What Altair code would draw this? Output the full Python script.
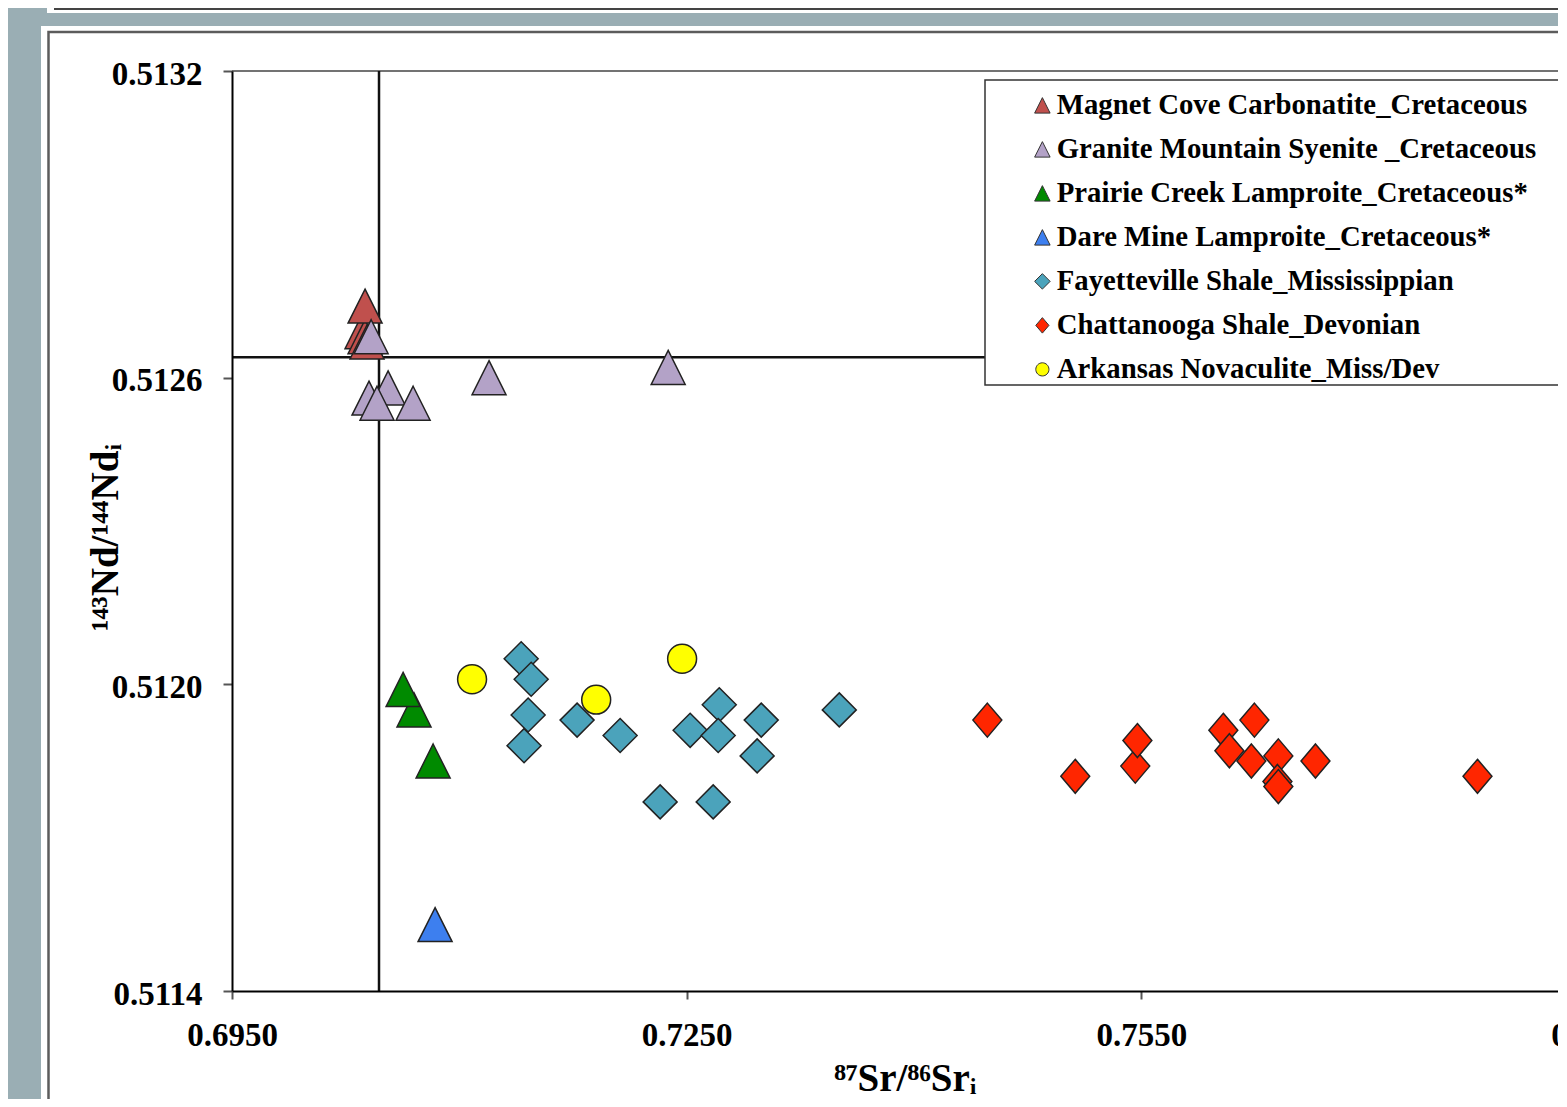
import altair as alt
import pandas as pd

# ---------------- data ----------------
series = [
    "Magnet Cove Carbonatite_Cretaceous",
    "Granite Mountain Syenite _Cretaceous",
    "Prairie Creek Lamproite_Cretaceous*",
    "Dare Mine Lamproite_Cretaceous*",
    "Fayetteville Shale_Mississippian",
    "Chattanooga Shale_Devonian",
    "Arkansas Novaculite_Miss/Dev",
]
colors = ["#c0504d", "#b3a2c7", "#008a00", "#3d7fef", "#4ba3bb", "#ff2600", "#ffff00"]

magnet_sr = [0.70358, 0.70378, 0.70391, 0.70378]
magnet_nd = [0.51269, 0.51268, 0.51267, 0.51274]

granite_sr = [0.70418, 0.70404, 0.70530, 0.70457, 0.70695, 0.71196, 0.72378]
granite_nd = [0.51268, 0.51256, 0.51258, 0.51255, 0.51255, 0.51260, 0.51262]

prairie_sr = [0.70701, 0.70629, 0.70827]
prairie_nd = [0.51195, 0.51199, 0.51185]

dare_sr = [0.70840]
dare_nd = [0.51153]

fay_sr = [0.71408, 0.71474, 0.71454, 0.71427, 0.71777, 0.72061, 0.72325,
          0.72523, 0.72675, 0.72715, 0.72708, 0.72992, 0.72965, 0.73507]
fay_nd = [0.51205, 0.51201, 0.51194, 0.51188, 0.51193, 0.51190, 0.51177,
          0.51191, 0.51177, 0.51196, 0.51190, 0.51193, 0.51186, 0.51195]

chat_sr = [0.74484, 0.75064, 0.75460, 0.75474, 0.76041, 0.76246, 0.76081,
           0.76226, 0.76404, 0.76649, 0.76398, 0.76404, 0.77718]
chat_nd = [0.51193, 0.51182, 0.51184, 0.51189, 0.51191, 0.51193, 0.51187,
           0.51185, 0.51186, 0.51185, 0.51181, 0.51180, 0.51182]

ark_sr = [0.71084, 0.71903, 0.72470]
ark_nd = [0.51201, 0.51197, 0.51205]

chur_sr = [0.7047]
chur_nd = [0.51264]

x_ticks = [0.6950, 0.7250, 0.7550, 0.7850]
y_ticks = [0.5114, 0.5120, 0.5126, 0.5132]

# ---------------- build table ----------------
groups = [
    (series[0], magnet_sr, magnet_nd),
    (series[1], granite_sr, granite_nd),
    (series[2], prairie_sr, prairie_nd),
    (series[3], dare_sr, dare_nd),
    (series[4], fay_sr, fay_nd),
    (series[5], chat_sr, chat_nd),
    (series[6], ark_sr, ark_nd),
]
rows = []
for name, xs, ys in groups:
    for a, b in zip(xs, ys):
        rows.append({"series": name, "sr": a, "nd": b})
df = pd.DataFrame(rows)

TRI = "M0,-1L1,1L-1,1Z"
DIA = "M0,-1L1,0L0,1L-1,0Z"
DIA_N = "M0,-1L0.85,0L0,1L-0.85,0Z"
CIRC = "M0.85,0A0.85,0.85,0,1,1,-0.85,0A0.85,0.85,0,1,1,0.85,0Z"
shapes = [TRI, TRI, TRI, TRI, DIA, DIA_N, CIRC]

W, H = 1364, 920
FONT = "Liberation Serif"
GRAY = "#9aaeb4"

x_enc = alt.X(
    "sr:Q",
    scale=alt.Scale(domain=[0.6950, 0.7850], nice=False, zero=False),
    axis=alt.Axis(values=x_ticks, format=".4f", title="⁸⁷Sr/⁸⁶Srᵢ",
                  tickSize=8, labelPadding=20, labelFlush=False, zindex=1,
                  titleX=673, titleY=99, titleAngle=0,
                  titleAlign="center", titleBaseline="alphabetic"),
)
y_enc = alt.Y(
    "nd:Q",
    scale=alt.Scale(domain=[0.5114, 0.5132], nice=False, zero=False),
    axis=alt.Axis(values=y_ticks, format=".4f", title="¹⁴³Nd/¹⁴⁴Ndᵢ",
                  tickSize=9, labelPadding=21, labelOffset=3, labelFlush=False, zindex=1,
                  titleX=-115, titleY=466, titleAngle=270,
                  titleAlign="center", titleBaseline="alphabetic"),
)

one = pd.DataFrame({"a": [0]})
chur = pd.DataFrame({"sr": chur_sr, "nd": chur_nd})

# slide background pieces (page decoration, outside the axes)
gray_left = alt.Chart(one).mark_rect(fill=GRAY).encode(
    x=alt.value(-300), x2=alt.value(-191), y=alt.value(-300), y2=alt.value(3000))
gray_strip = alt.Chart(one).mark_rect(fill=GRAY).encode(
    x=alt.value(-300), x2=alt.value(3000), y=alt.value(-58), y2=alt.value(-45))
gray_corner = alt.Chart(one).mark_rect(fill=GRAY).encode(
    x=alt.value(-300), x2=alt.value(-185), y=alt.value(-300), y2=alt.value(-58))
top_border = alt.Chart(one).mark_rect(fillOpacity=0, stroke="#444444", strokeWidth=2).encode(
    x=alt.value(-177), x2=alt.value(3000), y=alt.value(-300), y2=alt.value(-62))
panel_border = alt.Chart(one).mark_rect(fillOpacity=0, stroke="#5c5c5c", strokeWidth=2.5).encode(
    x=alt.value(-183.5), x2=alt.value(3000), y=alt.value(-39), y2=alt.value(3000))
frame_top = alt.Chart(one).mark_rule(color="#444444", strokeWidth=1.5).encode(
    x=alt.value(0), x2=alt.value(W), y=alt.value(0))

vline = alt.Chart(chur).mark_rule(color="#111111", strokeWidth=2.5).encode(x=x_enc)
hline = alt.Chart(chur).mark_rule(color="#111111", strokeWidth=2.5).encode(y=y_enc)

legend_box = alt.Chart(one).mark_rect(fill="white", stroke="#333333", strokeWidth=1.5).encode(
    x=alt.value(753), x2=alt.value(1500), y=alt.value(9), y2=alt.value(314))

leg = alt.Legend(
    title=None, orient="none", legendX=796, legendY=20, padding=0,
    labelFont=FONT, labelFontSize=28.75, labelFontWeight="bold", labelColor="black",
    labelOffset=0, labelLimit=2000, rowPadding=14,
    symbolSize=240, symbolStrokeWidth=1, symbolStrokeColor="#333333",
)

points = alt.Chart(df).mark_point(
    filled=True, size=1156, stroke="#222222", strokeWidth=1.5, opacity=1
).encode(
    x=x_enc,
    y=y_enc,
    color=alt.Color("series:N", scale=alt.Scale(domain=series, range=colors), legend=leg),
    shape=alt.Shape("series:N", scale=alt.Scale(domain=series, range=shapes), legend=leg),
)

chart = alt.layer(
    gray_left, gray_strip, gray_corner, top_border, panel_border, frame_top,
    vline, hline, legend_box, points
).properties(
    width=W, height=H,
    background="white",
    padding={"left": 224, "top": 63, "right": -38, "bottom": 108},
    autosize=alt.AutoSizeParams(type="none"),
).configure_axis(
    domainColor="black", domainWidth=2, tickColor="#555555", tickWidth=2,
    labelFont=FONT, labelFontSize=33, labelFontWeight="bold", labelColor="black",
    titleFont=FONT, titleFontSize=39, titleFontWeight="bold", titleColor="black",
    grid=False,
).configure_view(strokeWidth=0)

chart.save("out.html", embed_options={"renderer": "svg", "actions": False})
